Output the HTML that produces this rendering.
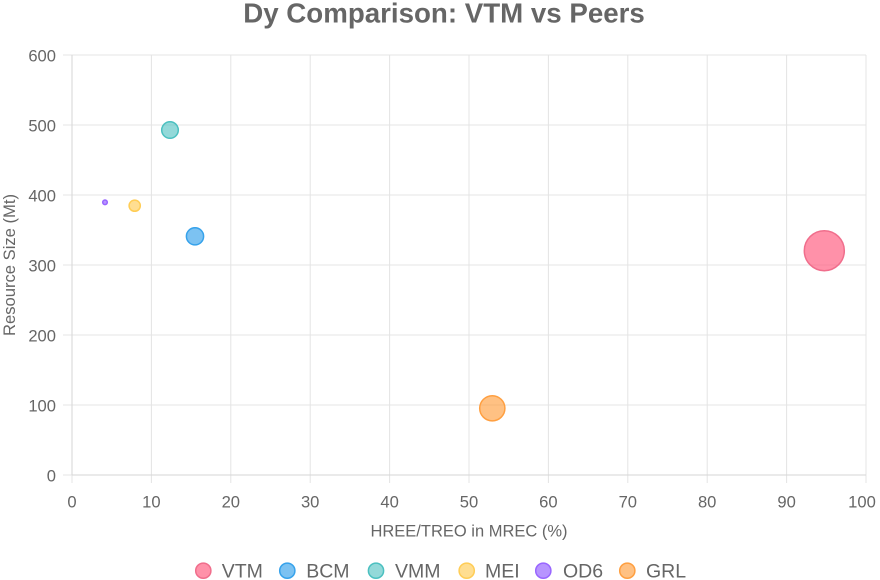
<!DOCTYPE html>
<html><head><meta charset="utf-8"><style>
html,body{margin:0;padding:0;background:#fff;}
svg{display:block;}
text{font-family:"Liberation Sans",Arial,sans-serif;fill:#666;}
</style></head><body>
<svg width="880" height="580" viewBox="0 0 880 580" xmlns="http://www.w3.org/2000/svg">
<rect width="880" height="580" fill="#fff"/>
<text x="444" y="22.7" font-size="27.7" font-weight="bold" text-anchor="middle">Dy Comparison: VTM vs Peers</text>
<g stroke="#e4e4e4" stroke-width="1">
<line x1="72" y1="55" x2="72" y2="483"/>
<line x1="151.4" y1="55" x2="151.4" y2="483"/>
<line x1="230.8" y1="55" x2="230.8" y2="483"/>
<line x1="310.2" y1="55" x2="310.2" y2="483"/>
<line x1="389.6" y1="55" x2="389.6" y2="483"/>
<line x1="469" y1="55" x2="469" y2="483"/>
<line x1="548.4" y1="55" x2="548.4" y2="483"/>
<line x1="627.8" y1="55" x2="627.8" y2="483"/>
<line x1="707.2" y1="55" x2="707.2" y2="483"/>
<line x1="786.6" y1="55" x2="786.6" y2="483"/>
<line x1="866" y1="55" x2="866" y2="483"/>
<line x1="63" y1="55" x2="866" y2="55"/>
<line x1="63" y1="125" x2="866" y2="125"/>
<line x1="63" y1="195" x2="866" y2="195"/>
<line x1="63" y1="265" x2="866" y2="265"/>
<line x1="63" y1="335" x2="866" y2="335"/>
<line x1="63" y1="405" x2="866" y2="405"/>
<line x1="63" y1="475" x2="866" y2="475"/>
</g>
<line x1="72" y1="55" x2="72" y2="475" stroke="#d6d6d6"/>
<line x1="72" y1="475" x2="866" y2="475" stroke="#d6d6d6"/>
<g font-size="16.6" text-anchor="end">
<text x="56" y="61.5">600</text>
<text x="56" y="131.5">500</text>
<text x="56" y="201.5">400</text>
<text x="56" y="271.5">300</text>
<text x="56" y="341.5">200</text>
<text x="56" y="411.5">100</text>
<text x="56" y="481.5">0</text>
</g>
<g font-size="16.6" text-anchor="middle">
<text x="72" y="507.3">0</text>
<text x="151.4" y="507.3">10</text>
<text x="230.8" y="507.3">20</text>
<text x="310.2" y="507.3">30</text>
<text x="389.6" y="507.3">40</text>
<text x="469" y="507.3">50</text>
<text x="548.4" y="507.3">60</text>
<text x="627.8" y="507.3">70</text>
<text x="707.2" y="507.3">80</text>
<text x="786.6" y="507.3">90</text>
<text x="862" y="507.3">100</text>
</g>
<text x="469" y="536.5" font-size="16.5" text-anchor="middle">HREE/TREO in MREC (%)</text>
<text transform="translate(15,265) rotate(-90)" font-size="16.6" text-anchor="middle">Resource Size (Mt)</text>
<g stroke-width="1.5">
<circle cx="824.3" cy="250.7" r="20" fill="rgba(255,99,132,0.7)" stroke="rgb(240,110,140)"/>
<circle cx="195" cy="236.3" r="8.6" fill="rgba(54,162,235,0.65)" stroke="rgb(54,162,235)"/>
<circle cx="170" cy="130" r="8.3" fill="rgba(75,192,192,0.6)" stroke="rgb(75,192,192)"/>
<circle cx="134.7" cy="205.7" r="5.6" fill="rgba(255,205,86,0.65)" stroke="rgb(255,205,86)"/>
<circle cx="105" cy="202.3" r="2.3" fill="rgba(153,102,255,0.7)" stroke="rgb(153,102,255)"/>
<circle cx="492.3" cy="408.3" r="12.6" fill="rgba(255,159,64,0.65)" stroke="rgb(255,159,64)"/>
</g>
<g stroke-width="1.5">
<circle cx="203.3" cy="570.7" r="7.6" fill="rgba(255,99,132,0.7)" stroke="rgb(240,110,140)"/>
<circle cx="287.3" cy="570.7" r="7.6" fill="rgba(54,162,235,0.65)" stroke="rgb(54,162,235)"/>
<circle cx="376" cy="570.7" r="7.6" fill="rgba(75,192,192,0.6)" stroke="rgb(75,192,192)"/>
<circle cx="466.7" cy="570.7" r="7.6" fill="rgba(255,205,86,0.65)" stroke="rgb(255,205,86)"/>
<circle cx="543.3" cy="570.7" r="7.6" fill="rgba(153,102,255,0.7)" stroke="rgb(153,102,255)"/>
<circle cx="627.3" cy="570.7" r="7.6" fill="rgba(255,159,64,0.65)" stroke="rgb(255,159,64)"/>
</g>
<g font-size="19.5">
<text x="221.7" y="577.7">VTM</text>
<text x="306.2" y="577.7">BCM</text>
<text x="395" y="577.7">VMM</text>
<text x="485" y="577.7">MEI</text>
<text x="563" y="577.7">OD6</text>
<text x="646" y="577.7">GRL</text>
</g>
</svg>
</body></html>
